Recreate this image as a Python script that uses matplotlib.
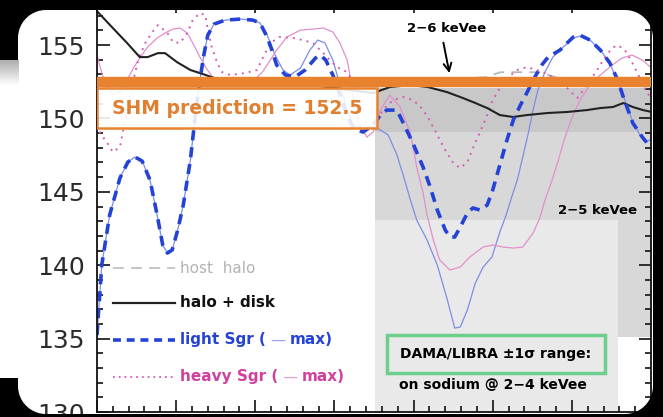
import numpy as np
import matplotlib
matplotlib.use("Agg")
import matplotlib.pyplot as plt
from matplotlib.patches import Rectangle, PathPatch
from matplotlib.path import Path
from matplotlib.ticker import MultipleLocator

plt.rcParams["font.family"] = ["DejaVu Sans"]

# ── Data ──────────────────────────────────────────────────────────────────────

disk_x = [0.01, 0.20, 0.38, 0.54, 0.64, 0.77, 0.86, 1.01, 1.18, 1.34, 1.52, 1.81,
          2.31, 2.82, 3.20, 3.49, 3.70, 3.96, 4.18, 4.42, 4.59, 4.75, 4.93, 5.09,
          5.26, 5.43, 5.69, 5.94, 6.19, 6.36, 6.52, 6.65, 6.77, 6.90, 7.01]
disk_y = [157.25, 156.16, 155.14, 154.18, 154.18, 154.45, 154.45, 153.84, 153.30,
          153.02, 152.68, 152.48, 152.34, 152.21, 151.93, 151.73, 152.14, 152.27,
          152.14, 151.80, 151.46, 151.12, 150.71, 150.23, 150.10, 150.23, 150.37,
          150.44, 150.57, 150.71, 150.78, 151.05, 150.78, 150.57, 150.44]

host_x = [0.0, 1.0, 2.0, 3.0, 4.0, 4.9, 5.1, 5.6, 5.8, 6.2, 7.0]
host_y = [152.6, 152.5, 152.4, 152.5, 152.6, 152.8, 153.15, 153.15, 152.8, 152.6, 152.5]

light_x = [0.00, 0.03, 0.06, 0.11, 0.16, 0.23, 0.29, 0.39, 0.48, 0.57, 0.67, 0.76,
           0.83, 0.89, 0.95, 1.02, 1.09, 1.18, 1.25, 1.30, 1.35, 1.40, 1.48, 1.62,
           1.81, 1.97, 2.06, 2.15, 2.21, 2.27, 2.38, 2.50, 2.63, 2.76, 2.82, 2.89,
           2.98, 3.07, 3.16, 3.24, 3.36, 3.49, 3.58, 3.66, 3.79, 3.87, 3.99, 4.12,
           4.21, 4.30, 4.40, 4.46, 4.52, 4.59, 4.68, 4.75, 4.84, 4.93, 5.00, 5.09,
           5.18, 5.26, 5.35, 5.43, 5.51, 5.62, 5.70, 5.85, 5.94, 6.02, 6.10, 6.23,
           6.36, 6.48, 6.58, 6.65, 6.71, 6.77, 6.89, 6.95, 7.01]
light_y = [135.24, 137.63, 140.01, 141.72, 143.42, 144.78, 145.94, 147.03, 147.37,
           147.10, 145.80, 143.42, 141.38, 140.83, 141.04, 142.40, 144.10, 147.17,
           150.57, 152.61, 154.32, 155.68, 156.43, 156.70, 156.77, 156.70, 156.50,
           155.55, 154.66, 153.64, 152.96, 152.82, 153.30, 154.11, 154.32, 153.98,
           152.96, 151.60, 150.23, 149.35, 149.07, 149.55, 150.23, 150.57, 150.57,
           149.69, 148.33, 146.69, 145.33, 143.76, 142.40, 141.92, 141.92, 142.60,
           143.56, 143.90, 143.76, 144.10, 145.12, 146.83, 148.53, 149.89, 150.91,
           151.73, 152.61, 153.64, 154.18, 154.66, 155.14, 155.55, 155.68, 155.34,
           154.66, 153.78, 152.61, 151.46, 150.57, 149.69, 148.73, 148.33, 148.67]

light_max_x = light_x[:27] + [
    2.15, 2.25, 2.35, 2.44, 2.57, 2.69, 2.79, 2.88, 2.98, 3.07, 3.16, 3.24, 3.36,
    3.54, 3.68, 3.79, 3.88, 3.96, 4.04, 4.17, 4.30, 4.42, 4.52, 4.59, 4.68, 4.78,
    4.88, 4.99, 5.09, 5.17, 5.24, 5.31, 5.38, 5.45, 5.51, 5.57, 5.66, 5.76, 5.89,
    6.02, 6.10, 6.23, 6.36, 6.48, 6.58, 6.67, 6.76, 6.86, 6.95, 7.01]
light_max_y = light_y[:27] + [
    155.68, 154.32, 153.30, 152.96, 153.43, 154.66, 155.34, 155.14, 153.98, 152.27,
    150.57, 149.55, 149.35, 149.35, 148.87, 147.51, 145.94, 144.44, 143.08, 141.72,
    140.01, 137.77, 135.72, 135.79, 136.95, 138.79, 139.88, 140.56, 142.26, 143.42,
    144.65, 145.80, 147.37, 149.01, 150.57, 151.93, 153.16, 154.18, 154.86, 155.48,
    155.61, 155.34, 154.66, 153.78, 152.48, 151.25, 149.89, 148.87, 148.40, 148.67]

heavy_x = [0.00, 0.04, 0.13, 0.20, 0.29, 0.38, 0.46, 0.52, 0.61, 0.70, 0.77, 0.89,
           0.96, 1.05, 1.14, 1.21, 1.30, 1.37, 1.40, 1.45, 1.52, 1.58, 1.68, 1.87,
           2.02, 2.10, 2.19, 2.31, 2.48, 2.60, 2.73, 2.86, 3.03, 3.16, 3.26, 3.35,
           3.42, 3.51, 3.61, 3.74, 3.87, 3.99, 4.08, 4.18, 4.30, 4.40, 4.50, 4.59,
           4.68, 4.75, 4.84, 4.93, 5.00, 5.09, 5.18, 5.31, 5.43, 5.56, 5.69, 5.81,
           5.94, 6.07, 6.19, 6.32, 6.42, 6.51, 6.58, 6.67, 6.76, 6.86, 6.95, 7.01]
heavy_y = [149.55, 149.01, 148.33, 147.71, 148.05, 150.57, 152.61, 153.98, 155.14,
           155.89, 156.36, 155.82, 155.20, 155.14, 155.82, 156.70, 157.18, 157.04,
           156.02, 154.87, 153.78, 153.16, 152.96, 153.09, 153.30, 154.18, 155.14,
           155.55, 155.48, 155.34, 155.14, 154.45, 153.50, 153.16, 152.27, 150.57,
           149.35, 149.55, 150.57, 151.25, 151.46, 151.25, 150.85, 150.10, 148.87,
           147.85, 146.96, 146.62, 147.03, 147.98, 149.07, 150.23, 151.25, 152.07,
           152.75, 153.30, 153.50, 153.30, 153.03, 152.61, 152.07, 151.40, 152.27,
           153.30, 154.18, 154.80, 155.00, 154.66, 153.84, 152.75, 151.80, 151.25]

heavy_max_x = [0.00, 0.05, 0.11, 0.20, 0.29, 0.38, 0.46, 0.54, 0.64, 0.76, 0.86,
               0.96, 1.05, 1.14, 1.21, 1.30, 1.38, 1.45, 1.55, 1.74, 1.93, 2.09,
               2.19, 2.27, 2.40, 2.57, 2.73, 2.86, 2.98, 3.07, 3.16, 3.20, 3.24,
               3.30, 3.41, 3.49, 3.58, 3.70, 3.83, 3.96, 4.04, 4.12, 4.17, 4.25,
               4.33, 4.46, 4.59, 4.71, 4.88, 5.00, 5.13, 5.26, 5.38, 5.51, 5.60,
               5.66, 5.75, 5.83, 5.91, 6.00, 6.10, 6.23, 6.36, 6.51, 6.63, 6.76,
               6.89, 7.01]
heavy_max_y = [154.32, 153.30, 152.27, 151.59, 151.80, 152.61, 153.43, 154.11,
               154.87, 155.48, 155.82, 156.09, 156.16, 155.82, 155.14, 154.18,
               153.43, 152.89, 152.48, 152.27, 152.34, 153.16, 153.98, 154.66,
               155.55, 156.02, 156.09, 156.16, 155.89, 155.14, 153.98, 152.82,
               151.25, 149.76, 148.73, 149.08, 150.57, 151.59, 150.78, 149.01,
               146.69, 144.92, 143.42, 141.72, 140.36, 139.67, 139.88, 140.56,
               141.24, 141.38, 141.24, 141.17, 141.24, 142.19, 143.28, 144.44,
               145.80, 147.17, 148.67, 150.03, 151.25, 152.27, 152.96, 153.64,
               154.11, 154.32, 153.98, 153.43]

shm_value = 152.5

# DAMA/LIBRA ranges: x start, x end, low, high, colour
band_x0 = [3.51, 3.51, 3.51]
band_x1 = [7.10, 7.10, 6.58]
band_lo = [149.07, 135.11, 129.0]
band_hi = [152.07, 149.07, 143.08]
band_colors = ["#c8c8c8", "#d8d8d8", "#e9e9e9"]

yticks = [130, 135, 140, 145, 150, 155]

# ── Figure ────────────────────────────────────────────────────────────────────

W, H = 663, 417
fig = plt.figure(figsize=(W / 100, H / 100), dpi=100, facecolor="white")
ax = fig.add_axes([97 / W, 5 / H, 554 / W, 412 / H])

for x0, x1, lo, hi, c in zip(band_x0, band_x1, band_lo, band_hi, band_colors):
    ax.fill_between([x0, x1], lo, hi, color=c, lw=0, zorder=0.5)

ax.plot(host_x, host_y, color="#b8b8b8", lw=1.3, dashes=(6, 4), zorder=1.5)
ax.plot(light_max_x, light_max_y, color="#7d8de6", lw=0.9, zorder=2)
ax.plot(heavy_max_x, heavy_max_y, color="#e38fcb", lw=0.9, zorder=2)
ax.plot(heavy_x, heavy_y, color="#d65cb6", lw=1.4, ls=(0, (1, 2.6)), zorder=2.1)
ax.plot(disk_x, disk_y, color="#222222", lw=1.5, zorder=2.2)
ax.plot(light_x, light_y, color="#2443d6", lw=2.6, dashes=(2.8, 1.9), zorder=2.3)

ax.axhline(shm_value, color="#e8822e", lw=7.5, zorder=3)
ax.add_patch(Rectangle((0, 149.35), 3.54, 2.72, facecolor="white", alpha=0.88,
                       edgecolor="none", zorder=4))
ax.add_patch(Rectangle((0, 149.35), 3.54, 2.72, facecolor="none",
                       edgecolor="#e8822e", lw=1.8, zorder=4.1))
ax.text(1.77, 150.7, f"SHM prediction = {shm_value}", color="#e07f30",
        fontsize=13.5, fontweight="bold", ha="center", va="center", zorder=5)

# labels for the DAMA bands
ax.text(4.42, 156.16, "2−6 keVee", fontsize=9.5, fontweight="bold",
        ha="center", va="center", zorder=5)
ax.annotate("", xy=(4.46, 152.9), xytext=(4.37, 155.35), zorder=5,
            arrowprops=dict(arrowstyle="->", color="black", lw=1.4,
                            mutation_scale=14))
ax.text(6.33, 143.76, "2−5 keVee", fontsize=9.5, fontweight="bold",
        ha="center", va="center", zorder=5)

ax.add_patch(Rectangle((3.664, 132.66), 2.755, 2.58, facecolor="#e9e9e9",
                       edgecolor="#6ccf8c", lw=2.5, zorder=4))
ax.text(5.04, 133.95, "DAMA/LIBRA ±1σ range:", fontsize=10, fontweight="bold",
        ha="center", va="center", zorder=5)
ax.text(5.00, 131.84, "on sodium @ 2−4 keVee", fontsize=10, fontweight="bold",
        ha="center", va="center", zorder=5)

# ── Hand-made legend ──────────────────────────────────────────────────────────

leg_y = [0.3495, 0.2646, 0.1748, 0.085]
leg_styles = [dict(color="#c0c0c0", lw=1.3, dashes=(6, 4)),
              dict(color="#222222", lw=1.6),
              dict(color="#2443d6", lw=2.6, dashes=(2.2, 1.6)),
              dict(color="#d65cb6", lw=1.3, ls=(0, (1, 2.2)))]
leg_text = ["host  halo", "halo + disk", "light Sgr (", "heavy Sgr ("]
leg_color = ["#b3b3b3", "#111111", "#2443d6", "#d0409f"]
leg_weight = ["normal", "bold", "bold", "bold"]
leg_max_color = [None, None, "#9aa6ea", "#eaa0d2"]

for y, st, txt, c, w, mc in zip(leg_y, leg_styles, leg_text, leg_color,
                                leg_weight, leg_max_color):
    ax.plot([0.029, 0.141], [y, y], transform=ax.transAxes, clip_on=False,
            zorder=5, **st)
    t = ax.text(0.1498, y, txt, transform=ax.transAxes, color=c, fontsize=11,
                fontweight=w, va="center", ha="left", zorder=5)
    if mc:
        t2 = ax.annotate("—", xy=(1, 0), xycoords=t, xytext=(3, 0),
                         textcoords="offset points", va="bottom", ha="left",
                         color=mc, fontsize=11, zorder=5)
        ax.annotate("max)", xy=(1, 0), xycoords=t2, xytext=(3, 0),
                    textcoords="offset points", va="bottom", ha="left",
                    color=c, fontsize=11, fontweight="bold", zorder=5)

# ── Axes styling ──────────────────────────────────────────────────────────────

ax.set_yticks(yticks)
ax.set_xlim(0, 7)
ax.set_ylim(130, 158.07)
ax.xaxis.set_major_locator(MultipleLocator(1))
ax.xaxis.set_minor_locator(MultipleLocator(0.2))
ax.yaxis.set_minor_locator(MultipleLocator(1))
ax.tick_params(which="both", direction="in", top=True, right=True, width=1.2,
               color="#111111")
ax.tick_params(which="major", length=9)
ax.tick_params(which="minor", length=4.5)
ax.tick_params(axis="x", labelbottom=False)
ax.tick_params(axis="y", labelsize=18, labelcolor="#2b2b2b", pad=9)
for s in ax.spines.values():
    s.set_linewidth(1.3)
    s.set_color("#111111")

# ── Screenshot frame: black surround with rounded white card ──────────────────


def rounded_rect(x0, y0, x1, y1, r, n=14):
    pts = []
    for cx, cy, a0 in [(x1 - r, y1 - r, 0), (x0 + r, y1 - r, 90),
                       (x0 + r, y0 + r, 180), (x1 - r, y0 + r, 270)]:
        for a in np.radians(np.linspace(a0, a0 + 90, n)):
            pts.append((cx + r * np.cos(a), cy + r * np.sin(a)))
    return pts


outer = [(0, 0), (W, 0), (W, H), (0, H)]
inner = rounded_rect(18, 3, 653, 407, 28)[::-1]
verts, codes = [], []
for poly in (outer, inner):
    verts += poly + [poly[0]]
    codes += [Path.MOVETO] + [Path.LINETO] * (len(poly) - 1) + [Path.CLOSEPOLY]
verts = np.array(verts, dtype=float) / [W, H]
fig.add_artist(PathPatch(Path(verts, codes), facecolor="black", edgecolor="none",
                         transform=fig.transFigure, zorder=10))

# light strip of the window behind the card
sax = fig.add_axes([0, 39 / H, 19 / W, 318 / H], zorder=20)
sax.axis("off")
shade = np.ones((318, 1))
shade[:26, 0] = np.linspace(0.68, 1.0, 26)
sax.imshow(shade, cmap="gray", vmin=0, vmax=1, aspect="auto",
           interpolation="bilinear")

fig.savefig("out.png", dpi=100, facecolor=fig.get_facecolor())
